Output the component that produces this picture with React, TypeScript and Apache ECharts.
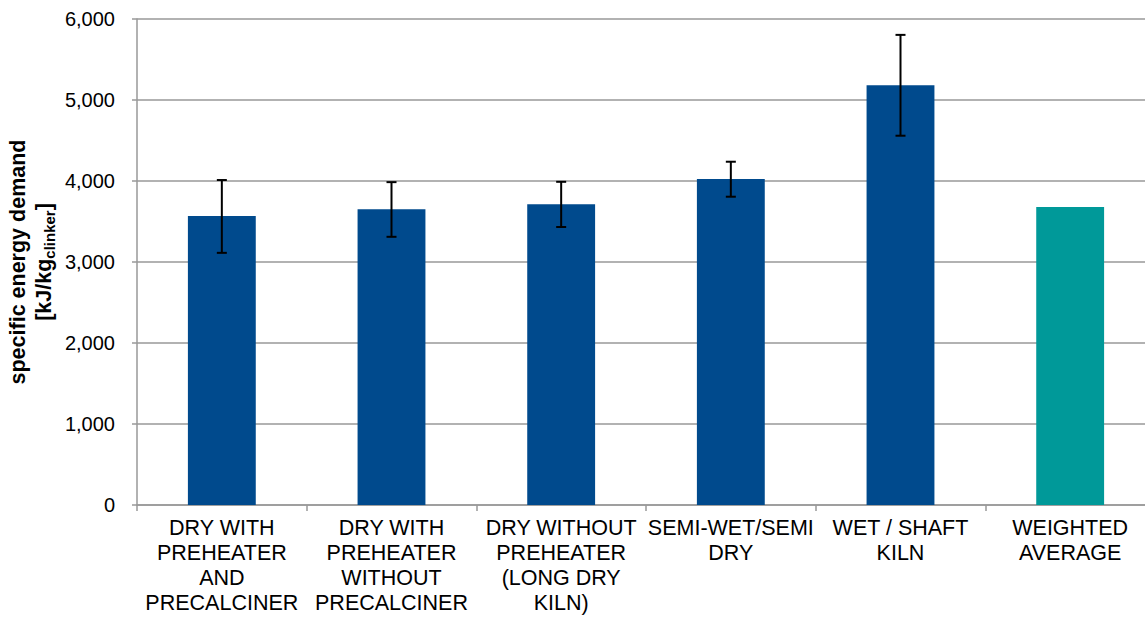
import React, { useEffect, useRef } from "react";
import * as echarts from "echarts";

const categories = [
  "DRY WITH\nPREHEATER\nAND\nPRECALCINER",
  "DRY WITH\nPREHEATER\nWITHOUT\nPRECALCINER",
  "DRY WITHOUT\nPREHEATER\n(LONG DRY\nKILN)",
  "SEMI-WET/SEMI\nDRY",
  "WET / SHAFT\nKILN",
  "WEIGHTED\nAVERAGE",
];
const values = [3568, 3650, 3712, 4025, 5181, 3679];
const errLow = [3113, 3311, 3432, 3806, 4559, null];
const errHigh = [4012, 3986, 3990, 4238, 5804, null];
const barColors = ["#004A8D", "#004A8D", "#004A8D", "#004A8D", "#004A8D", "#009999"];

const FONT = "'Liberation Sans', Arial, sans-serif";

export default function App() {
  const ref = useRef<HTMLDivElement>(null);
  useEffect(() => {
    document.body.style.overflow = "hidden";
    if (!ref.current) return;
    const chart = echarts.init(ref.current, null, { renderer: "svg" });
    const errData = categories
      .map((_, i) => [i, errLow[i], errHigh[i]])
      .filter((d) => d[1] != null);
    chart.setOption({
      animation: false,
      backgroundColor: "#fff",
      grid: { left: 137, top: 19, width: 1018, height: 486 },
      xAxis: {
        type: "category",
        data: categories,
        axisLine: { lineStyle: { color: "#999", width: 1.5 } },
        axisTick: { show: true, length: 6, lineStyle: { color: "#999", width: 1.5 } },
        axisLabel: {
          color: "#000",
          fontFamily: FONT,
          fontSize: 21.5,
          lineHeight: 25,
          margin: 10,
          interval: 0,
        },
      },
      yAxis: {
        type: "value",
        min: 0,
        max: 6000,
        interval: 1000,
        axisLine: { show: true, lineStyle: { color: "#999", width: 1.5 } },
        axisTick: { show: true, length: 5, lineStyle: { color: "#999", width: 1.5 } },
        splitLine: { lineStyle: { color: "#999", width: 1.5 } },
        axisLabel: {
          color: "#000",
          fontFamily: FONT,
          fontSize: 20,
          margin: 22,
          formatter: (v: number) => v.toLocaleString("en-US"),
        },
      },
      graphic: [
        {
          type: "text",
          x: 31,
          y: 262,
          rotation: Math.PI / 2,
          style: {
            text: "{b|specific energy demand}\n{b|[kJ/kg}{s|clinker}{b|]}",
            align: "center",
            verticalAlign: "middle",
            fill: "#000",
            rich: {
              b: { fontFamily: FONT, fontWeight: "bold", fontSize: 21.5, lineHeight: 26, fill: "#000" },
              s: { fontFamily: FONT, fontWeight: "bold", fontSize: 15, lineHeight: 26, verticalAlign: "bottom", padding: [9, 0, 0, 0], fill: "#000" },
            },
          },
        },
      ],
      series: [
        {
          type: "bar",
          barWidth: "40%",
          data: values.map((v, i) => ({ value: v, itemStyle: { color: barColors[i] } })),
          z: 2,
        },
        {
          type: "custom",
          z: 5,
          data: errData,
          renderItem: (params: any, api: any) => {
            const x = api.value(0);
            const lo = api.coord([x, api.value(1)]);
            const hi = api.coord([x, api.value(2)]);
            const half = 5;
            const st = { stroke: "#000", lineWidth: 2 };
            return {
              type: "group",
              children: [
                { type: "line", shape: { x1: lo[0], y1: lo[1], x2: hi[0], y2: hi[1] }, style: st },
                { type: "line", shape: { x1: lo[0] - half, y1: lo[1], x2: lo[0] + half, y2: lo[1] }, style: st },
                { type: "line", shape: { x1: hi[0] - half, y1: hi[1], x2: hi[0] + half, y2: hi[1] }, style: st },
              ],
            };
          },
        },
      ],
    });
    return () => chart.dispose();
  }, []);
  return (
    <div
      ref={ref}
      style={{ position: "fixed", left: 0, top: 0, width: 1160, height: 619, background: "#fff" }}
    />
  );
}
